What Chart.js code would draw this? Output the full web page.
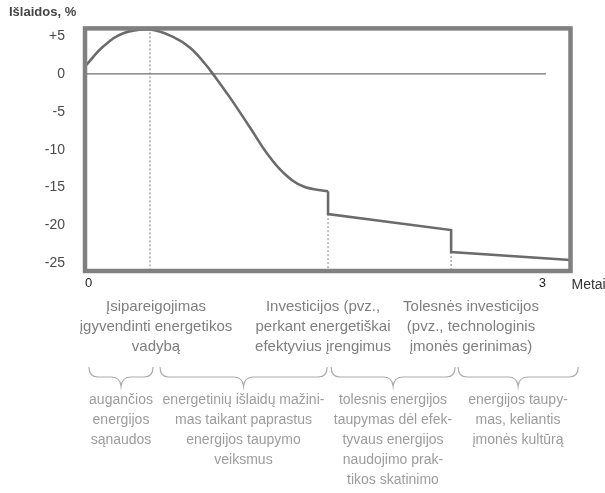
<!DOCTYPE html>
<html><head><meta charset="utf-8">
<script src="https://cdn.jsdelivr.net/npm/chart.js@4/dist/chart.umd.min.js"></script>
<style>
html,body{margin:0;padding:0;background:#fff;}
#wrap{position:relative;width:605px;height:493px;overflow:hidden;font-family:"Liberation Sans",Arial,sans-serif;}
canvas{position:absolute;left:0;top:0;}
.t{position:absolute;text-align:center;white-space:nowrap;transform:translateX(-50%);}
.r1{font-size:15px;line-height:20px;color:#7e7e7e;top:296px;}
.r2{font-size:14px;line-height:20px;color:#9c9c9c;top:389px;}
#title{position:absolute;left:9px;top:4px;font-weight:bold;font-size:13px;color:#444;}
</style></head>
<body><div id="wrap"><canvas id="c" width="605" height="493"></canvas>
<div id="title"></div>
<div id="notes"></div>
</div>
<script>
// ---- data ----
const yAxisTitle = 'Išlaidos, %';
const xAxisTitle = 'Metai';
const yTickValues = [5, 0, -5, -10, -15, -20, -25];
const xTickValues = [0, 3];
const curveYears  = [0, 0.124, 0.254, 0.423, 0.573, 0.684, 0.781, 0.846, 0.944, 1.074, 1.185, 1.289, 1.419, 1.582];
const curveValues = [1.0, 3.7, 5.4, 5.85, 4.88, 3.44, 1.34, -0.37, -3.13, -7.07, -10.49, -12.99, -14.83, -15.49];
const stepYears  = [1.582, 1.582, 2.383, 2.383, 3.16];
const stepValues = [-15.49, -18.5, -20.6, -23.5, -24.55];
const markerYears = [0.423, 1.582, 2.383];
const markerTops  = [6, -18.5, -23.5];
const zeroLineYears = [0, 3];
const braceRanges = [[0.026, 0.443], [0.488, 1.576], [1.602, 2.409], [2.428, 3.21]];
const milestoneLabels = [
  ['Įsipareigojimas', 'įgyvendinti energetikos', 'vadybą'],
  ['Investicijos (pvz.,', 'perkant energetiškai', 'efektyvius įrengimus'],
  ['Tolesnės investicijos', '(pvz., technologinis', 'įmonės gerinimas)']
];
const phaseLabels = [
  ['augančios', 'energijos', 'sąnaudos'],
  ['energetinių išlaidų mažini-', 'mas taikant paprastus', 'energijos taupymo', 'veiksmus'],
  ['tolesnis energijos', 'taupymas dėl efek-', 'tyvaus energijos', 'naudojimo prak-', 'tikos skatinimo'],
  ['energijos taupy-', 'mas, keliantis', 'įmonės kultūrą']
];
// ---- layout (positions only) ----
const milestoneX = [156, 323, 471];
const phaseX = [121, 243.5, 393, 518];

document.getElementById('title').textContent = yAxisTitle;
const notes = document.getElementById('notes');
milestoneLabels.forEach((lines, i) => {
  const d = document.createElement('div');
  d.className = 't r1'; d.style.left = milestoneX[i] + 'px';
  d.innerHTML = lines.join('<br>'); notes.appendChild(d);
});
phaseLabels.forEach((lines, i) => {
  const d = document.createElement('div');
  d.className = 't r2'; d.style.left = phaseX[i] + 'px';
  d.innerHTML = lines.join('<br>'); notes.appendChild(d);
});

const pts = (xs, ys) => xs.map((x, i) => ({x: x, y: ys[i]}));
const lineColor = '#6b6b6b';
const datasets = [
  {data: pts(curveYears, curveValues), borderColor: lineColor, borderWidth: 2.6, tension: 0.4},
  {data: pts(stepYears, stepValues), borderColor: lineColor, borderWidth: 2.6, tension: 0},
  {data: pts(zeroLineYears, [0, 0]), borderColor: '#707070', borderWidth: 1.4, tension: 0}
];
markerYears.forEach((x, i) => {
  datasets.push({data: [{x: x, y: markerTops[i]}, {x: x, y: -26}], borderColor: '#a9a9a9', borderWidth: 1.5, borderDash: [2, 2], tension: 0});
});
datasets.forEach(d => { d.showLine = true; d.pointRadius = 0; d.fill = false; });
datasets.forEach((d, i) => { d.order = i < 2 ? 0 : 1; });

const framePlugin = {
  id: 'frame',
  afterDatasetsDraw(chart) {
    const a = chart.chartArea, c = chart.ctx;
    c.save(); c.strokeStyle = '#808080'; c.lineWidth = 4.5;
    c.strokeRect(a.left, a.top, a.right - a.left, a.bottom - a.top);
    c.restore();
  },
  afterDraw(chart) {
    const a = chart.chartArea, c = chart.ctx, xs = chart.scales.x;
    c.save();
    c.fillStyle = '#333'; c.font = '14px "Liberation Sans", Arial, sans-serif';
    c.textAlign = 'left'; c.textBaseline = 'middle';
    c.fillText(xAxisTitle, a.right + 1, a.bottom + 14);
    c.strokeStyle = '#ababab'; c.lineWidth = 1.2;
    const yTop = a.bottom + 96, yArm = a.bottom + 106, yTip = a.bottom + 115;
    braceRanges.forEach(r => {
      const x0 = xs.getPixelForValue(r[0]), x1 = xs.getPixelForValue(r[1]);
      const m = (x0 + x1) / 2;
      c.beginPath();
      c.moveTo(x0, yTop);
      c.quadraticCurveTo(x0, yArm, x0 + 9, yArm);
      c.lineTo(m - 10, yArm);
      c.quadraticCurveTo(m - 1, yArm, m, yTip);
      c.quadraticCurveTo(m + 1, yArm, m + 10, yArm);
      c.lineTo(x1 - 9, yArm);
      c.quadraticCurveTo(x1, yArm, x1, yTop);
      c.stroke();
    });
    c.restore();
  }
};

new Chart(document.getElementById('c'), {
  type: 'scatter',
  data: {datasets: datasets},
  options: {
    responsive: false, animation: false,
    layout: {padding: {left: 0, top: 27.5, right: 34.5, bottom: 192}},
    plugins: {legend: {display: false}, tooltip: {enabled: false}},
    scales: {
      x: {
        type: 'linear', min: 0, max: 3.16,
        grid: {display: false, drawTicks: false}, border: {display: false},
        afterBuildTicks: s => { s.ticks = xTickValues.map(v => ({value: v})); },
        ticks: {align: 'inner', color: '#222', padding: 5, maxRotation: 0, autoSkip: false,
                font: {size: 13, family: '"Liberation Sans", Arial, sans-serif'},
                callback: v => String(v)},
        afterFit: s => { s.height = 30; }
      },
      y: {
        min: -26, max: 6,
        grid: {display: false, drawTicks: false}, border: {display: false},
        afterBuildTicks: s => { s.ticks = yTickValues.map(v => ({value: v})); },
        ticks: {color: '#4a4a4a', padding: 20, autoSkip: false,
                font: {size: 14, family: '"Liberation Sans", Arial, sans-serif'},
                callback: v => (v > 0 ? '+' + v : String(v))},
        afterFit: s => { s.width = 85; }
      }
    }
  },
  plugins: [framePlugin]
});
</script>
</body></html>
